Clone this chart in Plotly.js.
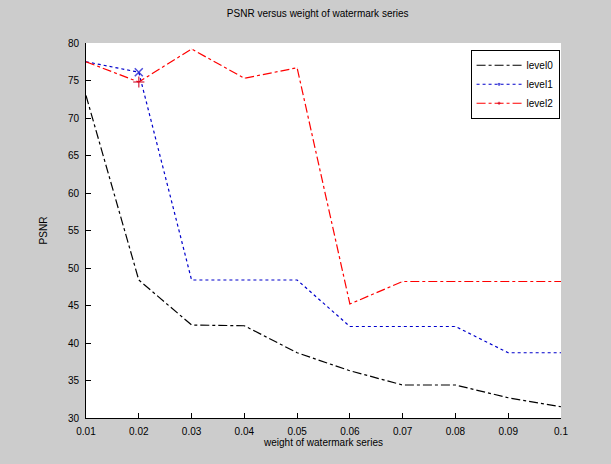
<!DOCTYPE html>
<html>
<head>
<meta charset="utf-8">
<script src="https://cdn.plot.ly/plotly-3.0.1.min.js"></script>
<style>html,body{margin:0;padding:0;background:#cccccc;}#chart{width:611px;height:464px;}</style>
</head>
<body>
<div id="chart"></div>
<script>
const weights = [0.01, 0.02, 0.03, 0.04, 0.05, 0.06, 0.07, 0.08, 0.09, 0.1];
const tickLabels = ['0.01','0.02','0.03','0.04','0.05','0.06','0.07','0.08','0.09','0.1'];
const level0 = [73, 48.4, 42.4, 42.3, 38.7, 36.3, 34.4, 34.4, 32.7, 31.5];
const level1 = [77.5, 76.1, 48.4, 48.4, 48.4, 42.2, 42.2, 42.2, 38.7, 38.7];
const level2 = [77.5, 74.8, 79.2, 75.3, 76.7, 45.2, 48.2, 48.2, 48.2, 48.2];
const seriesNames = ['level0', 'level1', 'level2'];

const markSecond = (sym) => ({
  symbol: sym,
  size: weights.map((v, i) => i === 1 ? 8 : 0.1),
  line: {width: 1.5}
});

const traces = [
  {x: weights, y: level0, name: seriesNames[0], mode: 'lines',
   line: {color: '#000000', width: 1.2, dash: 'dashdot'}},
  {x: weights, y: level1, name: seriesNames[1], mode: 'lines+markers',
   line: {color: '#0000cc', width: 1.2, dash: 'dot'},
   marker: Object.assign({color: '#0000cc'}, markSecond('x-thin-open'))},
  {x: weights, y: level2, name: seriesNames[2], mode: 'lines+markers',
   line: {color: '#ff0000', width: 1.2, dash: 'dashdot'},
   marker: Object.assign({color: '#cc0022'}, markSecond('cross-thin-open'))}
];

const layout = {
  width: 611, height: 464,
  paper_bgcolor: '#cccccc',
  plot_bgcolor: '#ffffff',
  margin: {l: 86, r: 50, t: 43, b: 46},
  font: {family: 'Liberation Sans, Arial, sans-serif', size: 10, color: '#000'},
  title: {text: 'PSNR versus weight of watermark series', x: 0.52, xanchor: 'center', y: 0.978, yanchor: 'top',
          font: {size: 10}},
  showlegend: true,
  legend: {x: 0.997, xanchor: 'right', y: 0.982, yanchor: 'top', bgcolor: '#ffffff',
           bordercolor: '#000000', borderwidth: 1, font: {size: 10}, tracegroupgap: 0,
           itemwidth: 45},
  xaxis: {
    range: [0.01, 0.1], tickmode: 'array', tickvals: weights, ticktext: tickLabels,
    ticks: 'inside', ticklen: 5, tickcolor: '#000', showline: true, linecolor: '#000', linewidth: 1,
    showgrid: false, zeroline: false, ticklabelstandoff: 4,
    title: {text: 'weight of watermark series', standoff: 2, font: {size: 10}}
  },
  yaxis: {
    range: [30, 80], tickmode: 'linear', tick0: 30, dtick: 5,
    ticks: 'inside', ticklen: 5, tickcolor: '#000', showline: true, linecolor: '#000', linewidth: 1,
    showgrid: false, zeroline: false, ticklabelstandoff: 4,
    title: {text: 'PSNR', standoff: 18, font: {size: 10}}
  }
};

Plotly.newPlot('chart', traces, layout, {displayModeBar: false, staticPlot: true});
</script>
</body>
</html>
